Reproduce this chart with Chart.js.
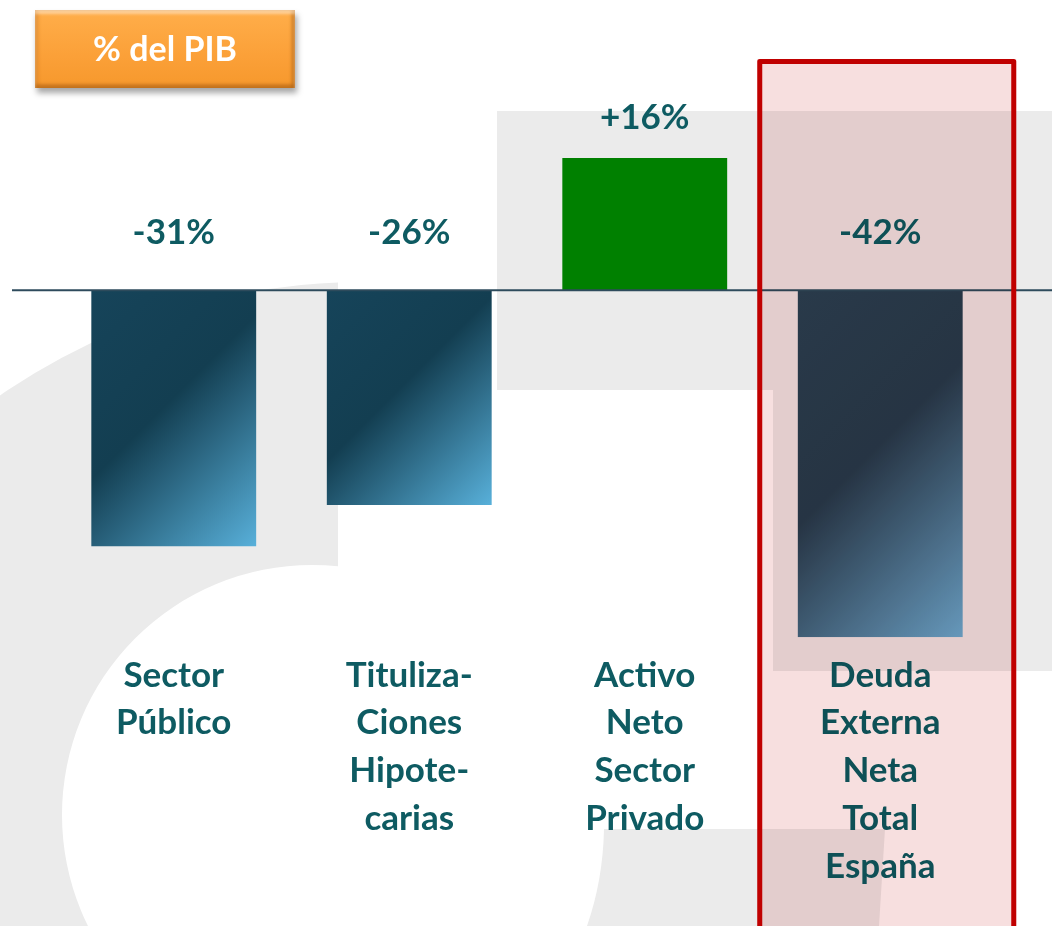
<!DOCTYPE html>
<html>
<head>
<meta charset="utf-8">
<script src="https://cdn.jsdelivr.net/npm/chart.js@4"></script>
<style>
  body { margin: 0; background: #fff; }
  #wrap { position: relative; width: 1052px; height: 926px; overflow: hidden; }
  #badge {
    position: absolute; left: 35px; top: 10px; width: 260px; height: 78px;
    font: bold 34px Lato, "Open Sans", sans-serif;
    line-height: 76px; text-align: center; color: #fff;
    background: linear-gradient(#ffae4a, #fba038 60%, #f6982c);
    box-shadow: inset 0 4px 3px rgba(255,255,255,0.45), inset 0 -4px 3px rgba(170,95,20,0.55),
                inset 4px 0 3px rgba(200,120,40,0.35), inset -4px 0 3px rgba(170,95,20,0.45),
                2px 5px 6px rgba(0,0,0,0.35);
  }
</style>
</head>
<body>
<div id="wrap">
  <canvas id="chart" width="1052" height="926"></canvas>
  <div id="badge">% del PIB</div>
</div>
<script>
// data
const categories = [
  ['Sector', 'Público'],
  ['Tituliza-', 'Ciones', 'Hipote-', 'carias'],
  ['Activo', 'Neto', 'Sector', 'Privado'],
  ['Deuda', 'Externa', 'Neta', 'Total', 'España']
];
const values = [-31, -26, 16, -42];
const yMin = -42;
const yMax = 20;

// styles
const textColor = '#0e5b62';
const fontFamily = 'Lato, "Open Sans", sans-serif';
const barPct = 0.70;
const barKinds = ['blue', 'blue', 'green', 'navy'];
const highlightIndex = 3;

function barFill(ctx) {
  const chart = ctx.chart;
  const kind = barKinds[ctx.dataIndex];
  if (kind === 'green') return '#008000';
  if (!chart.chartArea || ctx.type !== 'data') return '#133e51';
  const sx = chart.scales.x, sy = chart.scales.y;
  const x = sx.getPixelForValue(ctx.dataIndex);
  const w = sx.width / categories.length * barPct;
  const y0 = sy.getPixelForValue(0), y1 = sy.getPixelForValue(ctx.raw);
  const left = x - w / 2, top = Math.min(y0, y1), h = Math.abs(y1 - y0);
  const d = (w + h) / 2;
  const g = chart.ctx.createLinearGradient(left, top, left + d, top + d);
  if (kind === 'navy') {
    g.addColorStop(0, '#2a4254');
    g.addColorStop(0.46, '#273b4d');
    g.addColorStop(1, '#69aed6');
  } else {
    g.addColorStop(0, '#16445a');
    g.addColorStop(0.45, '#133e51');
    g.addColorStop(1, '#58b0da');
  }
  return g;
}

// grey watermark behind everything
const watermark = {
  id: 'watermark',
  beforeDraw(chart) {
    const c = chart.ctx;
    c.save();
    c.fillStyle = '#fff';
    c.fillRect(0, 0, chart.width, chart.height);
    c.fillStyle = '#ebebeb';
    // big "C"
    c.save();
    c.beginPath();
    c.rect(0, 0, 338, chart.height);
    c.clip();
    c.beginPath();
    c.arc(364, 923, 641, 0, Math.PI * 2);
    c.moveTo(312 + 250, 815);
    c.arc(312, 815, 250, 0, Math.PI * 2);
    c.fill('evenodd');
    c.restore();
    // upper right block
    c.fillRect(497, 111, 555, 279);
    c.fillRect(773, 390, 279, 281);
    // bottom stem
    c.beginPath();
    c.moveTo(604, 829);
    c.lineTo(885, 829);
    c.lineTo(879, 926);
    c.lineTo(587, 926);
    c.quadraticCurveTo(603, 880, 604, 829);
    c.fill();
    c.restore();
  }
};

// zero line + value labels
const valueLabels = {
  id: 'valueLabels',
  afterDatasetsDraw(chart) {
    const c = chart.ctx;
    const sy = chart.scales.y;
    const zero = sy.getPixelForValue(0);
    c.save();
    c.strokeStyle = '#2e4b5c';
    c.lineWidth = 2;
    c.beginPath();
    c.moveTo(12, zero);
    c.lineTo(chart.width, zero);
    c.stroke();
    c.fillStyle = textColor;
    c.font = 'bold 35px ' + fontFamily;
    c.textAlign = 'center';
    c.textBaseline = 'middle';
    chart.getDatasetMeta(0).data.forEach((el, i) => {
      const v = values[i];
      const txt = (v > 0 ? '+' : '') + v + '%';
      const y = v > 0 ? el.y - 40 : zero - 58;
      c.fillText(txt, el.x, y);
    });
    c.restore();
  }
};

// pink highlight box over the last column
const highlight = {
  id: 'highlight',
  afterDraw(chart) {
    const c = chart.ctx;
    const el = chart.getDatasetMeta(0).data[highlightIndex];
    const left = el.x - 123, right = el.x + 136, top = 59;
    c.save();
    c.globalCompositeOperation = 'multiply';
    c.fillStyle = '#f7dfdf';
    c.fillRect(left, top, right - left, chart.height);
    c.restore();
    c.save();
    c.strokeStyle = '#c00000';
    c.lineWidth = 5;
    c.lineJoin = 'round';
    c.beginPath();
    c.moveTo(left + 2.5, chart.height + 10);
    c.lineTo(left + 2.5, top + 2.5);
    c.lineTo(right - 2.5, top + 2.5);
    c.lineTo(right - 2.5, chart.height + 10);
    c.stroke();
    c.restore();
  }
};

new Chart(document.getElementById('chart'), {
  type: 'bar',
  data: {
    labels: categories,
    datasets: [{
      data: values,
      backgroundColor: barFill,
      borderWidth: 0,
      barPercentage: barPct,
      categoryPercentage: 1
    }]
  },
  options: {
    responsive: false,
    animation: false,
    events: [],
    layout: { padding: { left: 56, right: 54, top: 125, bottom: 29 } },
    plugins: { legend: { display: false }, tooltip: { enabled: false } },
    scales: {
      x: {
        grid: { display: false },
        border: { display: false },
        ticks: {
          color: textColor,
          padding: 6,
          maxRotation: 0,
          autoSkip: false,
          font: { family: fontFamily, size: 35, weight: 'bold', lineHeight: 1.37 }
        }
      },
      y: {
        display: false,
        min: yMin,
        max: yMax
      }
    }
  },
  plugins: [watermark, valueLabels, highlight]
});
</script>
</body>
</html>
